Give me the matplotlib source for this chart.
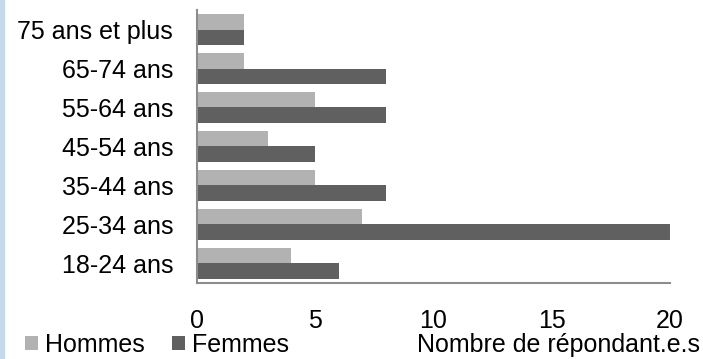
import matplotlib.pyplot as plt
import numpy as np
from matplotlib.patches import Rectangle

categories = ['18-24 ans', '25-34 ans', '35-44 ans', '45-54 ans',
              '55-64 ans', '65-74 ans', '75 ans et plus']
hommes = [4, 7, 5, 3, 5, 2, 2]
femmes = [6, 20, 8, 5, 8, 8, 2]

plt.rcParams['font.family'] = ['Liberation Sans', 'DejaVu Sans']
fs = 18

fig = plt.figure(figsize=(7.03, 3.59), dpi=100)
ax = fig.add_axes([0.280, 0.212, 0.673, 0.760])

y = np.arange(len(categories))
h = 0.4
ax.barh(y + h / 2, hommes, height=h, color='#b2b2b2', label='Hommes')
ax.barh(y - h / 2, femmes, height=h, color='#606060', label='Femmes')

ax.set_ylim(-0.5, len(categories) - 0.5)
ax.set_xlim(0, 20)
ax.set_xticks([0, 5, 10, 15, 20])
ax.set_yticks(y)
ax.set_yticklabels(categories)
ax.tick_params(axis='both', length=0, labelsize=fs, labelcolor='black')
ax.tick_params(axis='x', pad=19)
ax.tick_params(axis='y', pad=17)

for side in ['top', 'right']:
    ax.spines[side].set_visible(False)
for side in ['left', 'bottom']:
    ax.spines[side].set_color('#8c8c8c')
    ax.spines[side].set_linewidth(1.5)

fig.legend(loc='center left', bbox_to_anchor=(0.018, 0.04), ncol=2,
           frameon=False, fontsize=fs, handlelength=0.5, handleheight=0.5,
           handletextpad=0.3, columnspacing=1.1, borderpad=0.0)
fig.text(0.996, 0.04, 'Nombre de répondant.e.s', ha='right', va='center',
         fontsize=fs)

# thin blue strip along the left edge
fig.patches.append(Rectangle((0, 0), 0.005, 1, transform=fig.transFigure,
                             color='#c5d9ea', zorder=0))

fig.savefig('out.png', dpi=100)
